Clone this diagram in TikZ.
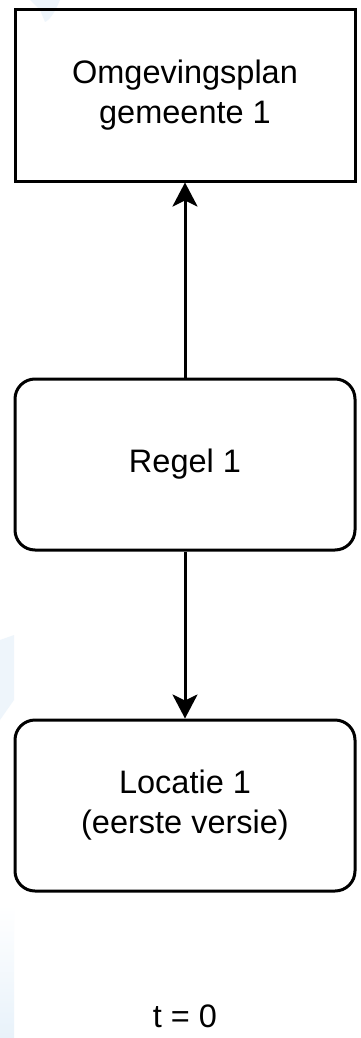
\documentclass[tikz,border=0pt]{standalone}
\usepackage{fontspec}
\setmainfont{Liberation Sans}
\usetikzlibrary{arrows.meta}
\definecolor{wm}{RGB}{232,242,250}
\begin{document}
\begin{tikzpicture}[x=1pt,y=-1pt,
  box/.style={draw=black,line width=3pt,minimum width=340pt,minimum height=171pt,align=center,inner sep=0pt,
    font=\fontsize{32.5}{40}\selectfont},
  roundbox/.style={box,rounded corners=20pt},
  conn/.style={line width=3pt,-{Stealth[length=24pt,width=25pt,inset=6pt]}},
  lbl/.style={font=\fontsize{32.5}{40}\selectfont,inner sep=0pt}]
\useasboundingbox (0,0) rectangle (360,1038);
\fill[white] (0,0) rectangle (360,1038);
% faint background watermark
\fill[wm,opacity=0.7] (30,0) -- (60,0) .. controls (55,12) and (50,20) .. (45,22) -- (40,10) -- cycle;
\fill[wm,opacity=0.7] (0,640) -- (14,635) -- (14,700) -- (0,720) -- cycle;
\shade[top color=white,bottom color=wm] (0,905) rectangle (14,1038);
% nodes
\node[box] (plan) at (185,95.5) {Omgevingsplan\\gemeente 1};
\node[roundbox] (regel) at (185,464.5) {Regel 1};
\node[roundbox] (loc) at (185,805.5) {Locatie 1\\(eerste versie)};
\node[lbl,anchor=base] (t) at (185,1027) {t = 0};
% connectors
\draw[conn] (regel.north) -- (plan.south);
\draw[conn] (regel.south) -- (loc.north);
\end{tikzpicture}
\end{document}
